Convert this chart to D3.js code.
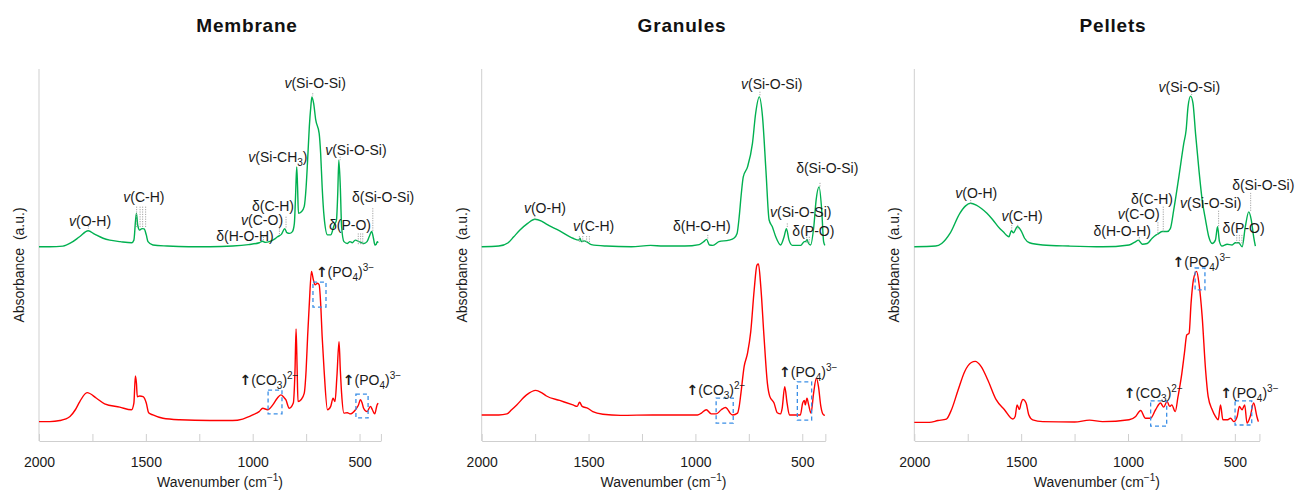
<!DOCTYPE html>
<html>
<head>
<meta charset="utf-8">
<script src="https://cdn.jsdelivr.net/npm/d3@7"></script>
<style>
  body { margin: 0; background: #fff; }
  svg { display: block; font-family: "Liberation Sans", Arial, sans-serif; }
</style>
</head>
<body>
<svg id="chart" width="1297" height="491"></svg>
<script>
// ---- data: FTIR spectra, [wavenumber, absorbance (a.u.)] ----
var panelTitles = ["Membrane", "Granules", "Pellets"];
var panelMinWn = [400, 392, 385];
var majorTicks = [2000, 1750, 1500, 1250, 1000, 750, 500];
var labelledTicks = [2000, 1500, 1000, 500];

var membraneGreen = [[2000,52.2],[1950,52.2],[1888,52.4],[1850,53.3],[1810,54.9],[1770,56.5],[1740,55.6],[1700,54.5],[1669,54.0],[1620,53.6],[1566,53.3],[1556,54.0],[1548,59.4],[1544,61.2],[1538,58.0],[1529,56.7],[1518,57.1],[1508,57.0],[1498,55.4],[1490,53.6],[1467,52.7],[1400,52.4],[1300,52.2],[1200,52.2],[1094,52.4],[1020,52.8],[969,53.3],[955,53.7],[940,53.4],[922,53.6],[900,54.2],[884,54.9],[865,55.6],[850,57.1],[840,56.0],[828,55.8],[814,56.3],[805,58.5],[799,66.6],[794,73.7],[790,68.3],[786,61.2],[772,61.6],[759,63.0],[750,68.3],[743,75.5],[735,84.5],[728,89.9],[723,92.5],[715,90.8],[705,86.3],[689,82.7],[682,77.3],[675,68.3],[666,60.3],[650,55.4],[635,55.4],[619,58.0],[608,59.4],[602,66.6],[597,75.5],[590,68.3],[584,57.6],[573,53.6],[557,53.1],[545,53.6],[534,53.3],[520,54.0],[503,53.6],[490,53.3],[480,53.1],[465,53.6],[455,54.9],[443,56.3],[435,54.5],[428,52.7],[422,52.9],[417,53.6],[413,53.3]];
var membraneRed = [[2000,5.2],[1950,5.2],[1902,5.5],[1855,6.6],[1830,8.4],[1809,10.6],[1775,13.0],[1731,11.5],[1693,10.0],[1622,9.1],[1567,8.4],[1556,10.2],[1549,17.5],[1544,15.5],[1540,11.9],[1529,12.1],[1513,11.9],[1498,10.2],[1487,7.6],[1467,7.0],[1420,6.1],[1342,5.7],[1200,5.5],[1094,5.5],[1047,5.9],[1000,7.0],[970,7.9],[953,8.8],[930,8.4],[906,9.7],[885,11.5],[868,12.4],[855,11.8],[845,11.1],[829,8.8],[810,10.2],[802,19.1],[797,30.1],[792,19.1],[788,10.6],[774,11.1],[759,12.8],[750,19.1],[743,28.1],[735,37.0],[725,45.6],[716,43.3],[708,42.0],[697,42.4],[689,42.0],[682,37.0],[675,28.1],[666,19.1],[650,8.4],[635,9.3],[624,11.5],[615,10.6],[606,17.3],[596,26.7],[590,19.1],[584,12.8],[573,7.5],[557,7.6],[545,7.3],[534,7.5],[519,8.4],[505,9.7],[496,11.1],[488,10.2],[481,8.8],[465,7.9],[449,9.3],[440,8.4],[429,7.3],[418,9.7],[413,10.2]];

var granulesGreen = [[2000,52.2],[1920,52.4],[1876,53.3],[1850,54.9],[1821,56.7],[1785,58.5],[1751,59.6],[1720,59.1],[1697,58.3],[1635,56.5],[1573,54.5],[1545,54.0],[1540,54.5],[1534,53.6],[1520,53.8],[1510,53.6],[1487,52.8],[1417,52.4],[1300,52.2],[1210,52.6],[1150,52.4],[1050,52.4],[982,52.8],[961,53.6],[948,54.2],[934,52.7],[918,52.6],[890,53.6],[843,54.0],[820,54.5],[805,55.8],[795,60.3],[785,66.6],[776,71.0],[756,73.7],[733,80.0],[718,88.1],[701,92.5],[686,87.2],[670,72.8],[655,59.4],[640,57.6],[624,54.9],[601,52.7],[585,54.9],[574,57.1],[562,54.0],[546,52.6],[507,52.6],[490,53.6],[484,53.6],[478,54.2],[472,53.3],[461,52.7],[446,57.6],[435,64.8],[421,68.3],[409,62.1],[400,53.6],[394,52.6]];
var granulesRed = [[2000,7.0],[1920,7.0],[1882,7.3],[1860,8.4],[1836,9.7],[1790,12.4],[1747,13.6],[1720,13.0],[1697,12.1],[1635,10.9],[1573,9.7],[1553,9.3],[1542,10.4],[1530,9.3],[1503,8.8],[1480,7.9],[1433,7.2],[1350,6.9],[1200,7.0],[1050,7.0],[990,7.0],[972,7.5],[949,8.4],[926,7.3],[902,7.3],[879,8.4],[859,9.0],[849,8.5],[838,7.5],[826,7.0],[803,7.5],[795,9.3],[787,12.8],[772,20.0],[756,23.6],[741,29.4],[725,40.6],[712,47.3],[705,47.6],[694,41.5],[679,28.1],[663,15.5],[652,12.0],[632,10.2],[617,7.6],[601,7.3],[594,8.8],[582,14.6],[571,10.2],[560,7.0],[509,7.0],[498,10.2],[490,10.9],[486,9.7],[478,11.5],[470,9.7],[459,7.5],[447,12.8],[434,16.9],[424,14.6],[413,9.3],[400,7.0],[394,6.9]];

var pelletsGreen = [[2000,52.2],[1900,52.4],[1872,53.1],[1833,55.8],[1787,61.2],[1760,63.2],[1737,63.9],[1710,63.4],[1686,62.5],[1660,61.2],[1632,59.4],[1600,57.1],[1585,56.3],[1557,54.9],[1546,56.5],[1536,56.0],[1518,57.6],[1500,56.5],[1484,54.5],[1461,53.3],[1399,52.7],[1275,52.4],[1119,52.2],[995,52.7],[964,53.6],[952,54.0],[933,52.9],[910,53.1],[887,54.5],[868,55.4],[856,55.8],[840,56.3],[817,56.3],[802,57.1],[786,62.1],[762,71.0],[739,80.0],[728,83.6],[719,89.9],[707,92.7],[696,90.8],[684,82.7],[668,72.8],[653,64.8],[637,59.4],[622,54.9],[606,53.1],[591,54.0],[581,57.6],[572,53.6],[560,52.4],[536,52.9],[513,52.7],[497,53.3],[482,53.3],[466,52.2],[451,57.6],[435,61.6],[423,59.4],[412,54.9],[404,52.4]];
var pelletsRed = [[2000,5.0],[1930,5.0],[1889,5.5],[1850,5.9],[1826,8.4],[1795,13.7],[1764,18.7],[1733,21.1],[1715,21.4],[1687,20.0],[1656,16.4],[1617,11.1],[1578,8.4],[1539,5.9],[1528,6.6],[1519,9.7],[1508,8.5],[1500,10.2],[1492,11.2],[1477,10.2],[1464,7.0],[1446,5.7],[1399,5.2],[1250,5.1],[1180,5.6],[1119,5.2],[995,5.7],[964,6.6],[941,8.2],[918,6.1],[895,6.1],[871,8.4],[848,10.2],[833,9.1],[817,10.6],[805,9.3],[795,9.7],[779,7.9],[766,11.9],[748,18.2],[736,23.6],[725,28.5],[714,29.0],[705,37.0],[694,43.3],[679,45.6],[668,42.4],[653,33.5],[637,19.1],[625,12.0],[606,8.4],[591,6.6],[578,5.7],[567,9.7],[556,5.7],[536,5.7],[520,6.1],[505,5.2],[489,6.6],[479,9.3],[466,8.4],[454,9.7],[443,4.8],[428,6.6],[412,10.2],[397,6.6],[390,5.2]];

// band assignments: text parts ("i|" italic, "b|" subscript, "p|" superscript, "a|" arrow), wavenumber, absorbance
var membraneLabels = [
  {parts: ["i|v", "(Si-O-Si)"], wn: 708, y: 94.9},
  {parts: ["i|v", "(Si-CH", "b|3", ")"], wn: 882, y: 75.0},
  {parts: ["i|v", "(Si-O-Si)"], wn: 517, y: 76.9},
  {parts: ["i|v", "(C-H)"], wn: 1509, y: 64.2},
  {parts: ["i|v", "(O-H)"], wn: 1761, y: 57.8},
  {parts: ["δ(C-H)"], wn: 905, y: 61.8},
  {parts: ["i|v", "(C-O)"], wn: 956, y: 58.0},
  {parts: ["δ(H-O-H)"], wn: 1036, y: 53.7},
  {parts: ["δ(P-O)"], wn: 545, y: 56.7},
  {parts: ["δ(Si-O-Si)"], wn: 390, y: 64.2},
  {parts: ["a|↑", "(PO", "b|4", ")", "p|3−"], wn: 568, y: 44.1},
  {parts: ["a|↑", "(CO", "b|3", ")", "p|2−"], wn: 924, y: 15.1},
  {parts: ["a|↑", "(PO", "b|4", ")", "p|3−"], wn: 442, y: 15.1}
];
var granulesLabels = [
  {parts: ["i|v", "(Si-O-Si)"], wn: 643, y: 94.6},
  {parts: ["δ(Si-O-Si)"], wn: 383, y: 72.0},
  {parts: ["i|v", "(Si-O-Si)"], wn: 507, y: 60.3},
  {parts: ["δ(P-O)"], wn: 448, y: 55.2},
  {parts: ["i|v", "(O-H)"], wn: 1704, y: 61.2},
  {parts: ["i|v", "(C-H)"], wn: 1476, y: 56.5},
  {parts: ["δ(H-O-H)"], wn: 970, y: 56.5},
  {parts: ["a|↑", "(CO", "b|3", ")", "p|2−"], wn: 904, y: 12.4},
  {parts: ["a|↑", "(PO", "b|4", ")", "p|3−"], wn: 472, y: 17.3}
];
var pelletsLabels = [
  {parts: ["i|v", "(Si-O-Si)"], wn: 713, y: 93.9},
  {parts: ["δ(Si-O-Si)"], wn: 367, y: 67.5},
  {parts: ["i|v", "(Si-O-Si)"], wn: 613, y: 62.6},
  {parts: ["δ(P-O)"], wn: 459, y: 55.8},
  {parts: ["δ(C-H)"], wn: 888, y: 63.8},
  {parts: ["i|v", "(C-O)"], wn: 950, y: 59.6},
  {parts: ["δ(H-O-H)"], wn: 1027, y: 55.0},
  {parts: ["i|v", "(O-H)"], wn: 1710, y: 65.4},
  {parts: ["i|v", "(C-H)"], wn: 1496, y: 59.1},
  {parts: ["a|↑", "(PO", "b|4", ")", "p|3−"], wn: 655, y: 46.9},
  {parts: ["a|↑", "(CO", "b|3", ")", "p|2−"], wn: 882, y: 11.5},
  {parts: ["a|↑", "(PO", "b|4", ")", "p|3−"], wn: 432, y: 11.5}
];

// dotted leader lines: [wavenumber, top, bottom]
var membraneLeaders = [[719,93.5,92.7],[1769,57.8,57.0],[1543,63.0,57.2],[1527,63.0,57.2],[1515,63.0,57.2],[1501,63.0,57.2],[844,60.3,57.2],[875,57.2,55.4],[950,54.9,53.6],[591,76.4,75.5],[506,55.8,52.7],[495,55.8,52.7],[485,55.8,52.7],[438,62.6,56.3]];
var granulesLeaders = [[698,93.9,92.7],[417,69.4,68.2],[570,58.5,57.2],[479,54.9,53.3],[467,54.9,53.3],[1751,60.5,59.4],[1543,55.1,53.3],[1527,55.1,53.3],[1509,55.1,53.3],[1496,55.1,53.3],[942,55.4,54.2]];
var pelletsLeaders = [[702,93.9,93.0],[426,66.7,61.6],[576,61.9,57.6],[491,55.4,53.1],[479,55.4,53.1],[467,55.4,53.1],[835,63.0,56.3],[860,58.8,55.4],[947,54.8,54.0],[1736,64.8,63.7],[1544,58.1,56.7],[1516,58.1,56.7]];

// dashed highlight boxes: [wn from, wn to, top, bottom]
var membraneBoxes = [[928,863,13.7,7.3],[718,657,42.7,36.0],[517,460,12.6,6.2]];
var granulesBoxes = [[903,823,11.5,4.8],[523,456,15.9,5.6]];
var pelletsBoxes = [[686,640,46.5,40.6],[894,819,10.8,4.0],[499,421,10.8,4.3]];

// ---- layout ----
var panelLeft = [39, 481.7, 914.3];
var titleCenter = [247, 682, 1113];
var pxPerWn = 0.2137;
var greenColor = "#00b050", redColor = "#ff0000", boxColor = "#3a8ee6", axisColor = "#cfcfcf";

var spectra = [[membraneGreen, membraneRed], [granulesGreen, granulesRed], [pelletsGreen, pelletsRed]];
var labels = [membraneLabels, granulesLabels, pelletsLabels];
var leaders = [membraneLeaders, granulesLeaders, pelletsLeaders];
var boxes = [membraneBoxes, granulesBoxes, pelletsBoxes];

var svg = d3.select("#chart");
var y = d3.scaleLinear().domain([0, 100]).range([441, 69]);

// テキスト（斜体・下付き・上付き・矢印）を描く
function addRichText(g, x, yPos, parts, size) {
  var t = g.append("text")
    .attr("x", x).attr("y", yPos)
    .attr("text-anchor", "middle")
    .attr("font-size", size)
    .attr("fill", "#1a1a1a");
  var shift = 0;
  parts.forEach(function (p) {
    var kind = "n", str = p;
    if (p.indexOf("|") === 1) { kind = p[0]; str = p.slice(2); }
    var target = kind === "b" ? 4 : kind === "p" ? -6 : 0;
    var ts = t.append("tspan").text(str).attr("dy", target - shift);
    shift = target;
    if (kind === "b" || kind === "p") ts.attr("font-size", size - 4);
    if (kind === "i") ts.attr("font-style", "italic");
    if (kind === "a") ts.attr("font-family", "DejaVu Sans").attr("font-weight", "bold");
  });
  return t;
}

panelTitles.forEach(function (title, i) {
  var minWn = panelMinWn[i];
  var x = d3.scaleLinear()
    .domain([2000, minWn])
    .range([panelLeft[i], panelLeft[i] + (2000 - minWn) * pxPerWn]);
  var g = svg.append("g");

  // タイトル
  g.append("text")
    .attr("x", titleCenter[i]).attr("y", 32)
    .attr("text-anchor", "middle")
    .attr("font-size", 19).attr("font-weight", "bold")
    .attr("letter-spacing", 0.8)
    .attr("fill", "#111")
    .text(title);

  // y軸（目盛なし）
  g.append("line")
    .attr("x1", x(2000)).attr("x2", x(2000))
    .attr("y1", y(100)).attr("y2", y(0))
    .attr("stroke", axisColor).attr("stroke-width", 1);

  // x軸
  var axis = g.append("g")
    .attr("transform", "translate(0," + y(0) + ")")
    .call(d3.axisBottom(x)
      .tickValues(majorTicks.concat([minWn]))
      .tickSizeInner(-7).tickSizeOuter(0).tickPadding(16)
      .tickFormat(function (d) { return labelledTicks.indexOf(d) >= 0 ? d : ""; }));
  axis.attr("font-family", null).attr("font-size", null);
  axis.select(".domain").attr("stroke", axisColor);
  axis.selectAll(".tick line").attr("stroke", axisColor);
  axis.selectAll(".tick text").attr("font-size", 14).attr("fill", "#1a1a1a");

  var mid = (x.range()[0] + x.range()[1]) / 2;
  addRichText(g, mid + 10, 487, ["Wavenumber (cm", "p|−1", ")"], 14);

  g.append("text")
    .attr("transform", "translate(" + (x(2000) - 15) + ",265) rotate(-90)")
    .attr("text-anchor", "middle")
    .attr("font-size", 14).attr("fill", "#1a1a1a")
    .style("white-space", "pre")
    .text("Absorbance  (a.u.)");

  // スペクトル
  var line = d3.line()
    .x(function (d) { return x(d[0]); })
    .y(function (d) { return y(d[1]); })
    .curve(d3.curveMonotoneX);
  g.append("path").datum(spectra[i][0])
    .attr("d", line).attr("fill", "none")
    .attr("stroke", greenColor).attr("stroke-width", 1.4);
  g.append("path").datum(spectra[i][1])
    .attr("d", line).attr("fill", "none")
    .attr("stroke", redColor).attr("stroke-width", 1.4);

  // 点線
  g.selectAll("line.leader").data(leaders[i]).enter().append("line")
    .attr("class", "leader")
    .attr("x1", function (d) { return x(d[0]); }).attr("x2", function (d) { return x(d[0]); })
    .attr("y1", function (d) { return y(d[1]); }).attr("y2", function (d) { return y(d[2]); })
    .attr("stroke", "#9a9a9a").attr("stroke-width", 0.9)
    .attr("stroke-dasharray", "1.2,1.2");

  // 破線の枠
  g.selectAll("rect.box").data(boxes[i]).enter().append("rect")
    .attr("class", "box")
    .attr("x", function (d) { return x(d[0]); })
    .attr("y", function (d) { return y(d[2]); })
    .attr("width", function (d) { return x(d[1]) - x(d[0]); })
    .attr("height", function (d) { return y(d[3]) - y(d[2]); })
    .attr("fill", "none").attr("stroke", boxColor)
    .attr("stroke-width", 1.3).attr("stroke-dasharray", "4,3");

  // ラベル
  labels[i].forEach(function (l) {
    addRichText(g, x(l.wn), y(l.y), l.parts, 14);
  });
});
</script>
</body>
</html>
